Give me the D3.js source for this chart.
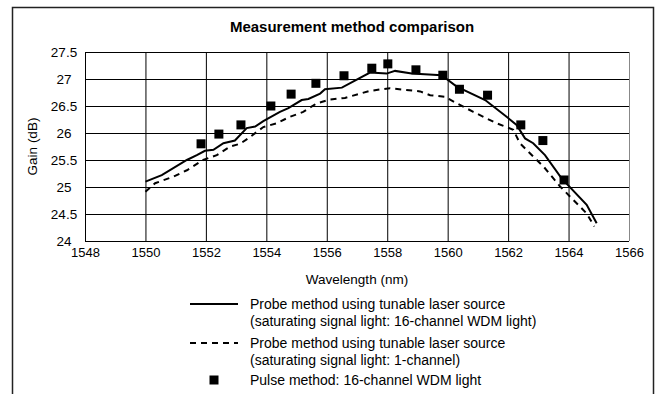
<!DOCTYPE html>
<html>
<head>
<meta charset="utf-8">
<script src="https://cdn.jsdelivr.net/npm/d3@7"></script>
<style>
  html, body { margin: 0; padding: 0; background: #fff; }
  svg { display: block; font-family: "Liberation Sans", Arial, sans-serif; }
</style>
</head>
<body>
<svg id="chart" width="655" height="394"></svg>
<script>
// Probe method, 16-channel WDM saturating light (solid line)
const solidNm = [1550.00, 1550.54, 1551.37, 1551.70, 1551.97, 1552.25, 1552.58, 1552.96, 1553.35, 1553.63, 1553.90,
  1554.45, 1554.73, 1555.17, 1555.39, 1555.78, 1555.94, 1556.50, 1557.43, 1557.98, 1558.26, 1558.81, 1559.80,
  1560.30, 1561.24, 1561.95, 1562.28, 1562.56, 1562.83, 1563.22, 1563.77, 1564.60, 1564.93];
const solidGain = [25.10, 25.22, 25.50, 25.59, 25.67, 25.69, 25.81, 25.86, 26.09, 26.12, 26.22,
  26.39, 26.46, 26.61, 26.63, 26.73, 26.81, 26.84, 27.12, 27.10, 27.15, 27.10, 27.07,
  26.86, 26.61, 26.30, 26.15, 25.90, 25.81, 25.59, 25.16, 24.67, 24.33];

// Probe method, 1-channel saturating light (dashed line)
const dashedNm = [1550.00, 1550.32, 1550.92, 1551.37, 1551.91, 1552.36, 1552.80, 1553.13, 1553.40, 1553.90, 1554.34,
  1554.78, 1555.22, 1555.67, 1556.11, 1556.60, 1557.43, 1558.09, 1559.09, 1559.42, 1559.91, 1560.30,
  1560.85, 1561.62, 1562.17, 1562.39, 1562.73, 1563.17, 1563.72, 1564.16, 1564.60, 1564.85];
const dashedGain = [24.91, 25.07, 25.19, 25.31, 25.50, 25.59, 25.75, 25.80, 25.90, 26.11, 26.18,
  26.30, 26.39, 26.55, 26.62, 26.65, 26.78, 26.83, 26.77, 26.70, 26.67, 26.55,
  26.39, 26.18, 26.06, 25.81, 25.62, 25.38, 25.01, 24.76, 24.51, 24.27];

// Pulse method, 16-channel WDM light (square markers)
const pulseNm = [1551.84, 1552.43, 1553.16, 1554.15, 1554.82, 1555.64, 1556.57, 1557.49,
  1558.02, 1558.95, 1559.84, 1560.39, 1561.32, 1562.42, 1563.15, 1563.85];
const pulseGain = [25.80, 25.98, 26.15, 26.50, 26.72, 26.92, 27.06, 27.20,
  27.28, 27.17, 27.07, 26.81, 26.70, 26.15, 25.86, 25.13];

const xTicks = [1548, 1550, 1552, 1554, 1556, 1558, 1560, 1562, 1564, 1566];
const yTicks = [24, 24.5, 25, 25.5, 26, 26.5, 27, 27.5];

const titleText = "Measurement method comparison";
const xTitle = "Wavelength (nm)";
const yTitle = "Gain (dB)";
const legendLabels = [
  ["Probe method using tunable laser source", "(saturating signal light: 16-channel WDM light)"],
  ["Probe method using tunable laser source", "(saturating signal light: 1-channel)"],
  ["Pulse method: 16-channel WDM light"]
];

const svg = d3.select("#chart");
const plotL = 85, plotR = 629, plotT = 52, plotB = 241;

const x = d3.scaleLinear().domain([1548, 1566]).range([plotL, plotR]);
const y = d3.scaleLinear().domain([24, 27.5]).range([plotB, plotT]);

// outer frame
svg.append("rect")
  .attr("x", 12.5).attr("y", 7.5)
  .attr("width", 641).attr("height", 400)
  .attr("fill", "none").attr("stroke", "#222").attr("stroke-width", 1.5);

// title
svg.append("text")
  .attr("x", 352).attr("y", 27)
  .attr("text-anchor", "middle").attr("dy", "0.35em")
  .attr("font-size", 15).attr("font-weight", "bold")
  .text(titleText);

// y axis with horizontal gridlines; labels centred in the margin column
const yAxis = svg.append("g")
  .attr("transform", `translate(${plotL},0)`)
  .call(d3.axisLeft(y).tickValues(yTicks).tickFormat(d3.format("")).tickSize(-(plotR - plotL)).tickPadding(7));
yAxis.select(".domain").remove();
yAxis.selectAll(".tick line").attr("stroke", "#000").attr("stroke-width", 1);
yAxis.selectAll(".tick text")
  .attr("x", -21).attr("dy", "0.3em")
  .attr("text-anchor", "middle")
  .attr("font-size", 13.5).attr("fill", "#000")
  .attr("font-family", "'Liberation Sans', Arial, sans-serif");

// x axis with vertical gridlines
const xAxis = svg.append("g")
  .attr("transform", `translate(0,${plotB})`)
  .call(d3.axisBottom(x).tickValues(xTicks).tickFormat(d3.format("d")).tickSize(-(plotB - plotT)).tickPadding(7));
xAxis.select(".domain").remove();
xAxis.selectAll(".tick line").attr("stroke", "#000").attr("stroke-width", 1);
xAxis.selectAll(".tick text").attr("font-size", 13).attr("fill", "#000")
  .attr("font-family", "'Liberation Sans', Arial, sans-serif");
xAxis.selectAll(".tick").filter(d => d === 1566).select("line").attr("stroke", "#888");

// axis titles
svg.append("text")
  .attr("x", (plotL + plotR) / 2).attr("y", 279)
  .attr("text-anchor", "middle").attr("dy", "0.35em")
  .attr("font-size", 13.5).text(xTitle);
svg.append("text")
  .attr("transform", `translate(32,${(plotT + plotB) / 2}) rotate(-90)`)
  .attr("text-anchor", "middle").attr("dy", "0.35em")
  .attr("font-size", 13.5).text(yTitle);

// series lines
const line = d3.line().x(d => x(d[0])).y(d => y(d[1]));
const solidData = solidNm.map((v, i) => [v, solidGain[i]]);
const dashedData = dashedNm.map((v, i) => [v, dashedGain[i]]);
const pulseData = pulseNm.map((v, i) => [v, pulseGain[i]]);

svg.append("path").datum(dashedData)
  .attr("d", line).attr("fill", "none")
  .attr("stroke", "#000").attr("stroke-width", 2).attr("stroke-dasharray", "6,5");
svg.append("path").datum(solidData)
  .attr("d", line).attr("fill", "none")
  .attr("stroke", "#000").attr("stroke-width", 2);

const sq = 9;
svg.append("g").selectAll("rect").data(pulseData).join("rect")
  .attr("x", d => x(d[0]) - sq / 2).attr("y", d => y(d[1]) - sq / 2)
  .attr("width", sq).attr("height", sq).attr("fill", "#000");

// legend
const lg = svg.append("g").attr("font-size", 14);
lg.append("line").attr("x1", 190).attr("x2", 238).attr("y1", 304).attr("y2", 304)
  .attr("stroke", "#000").attr("stroke-width", 2);
lg.append("line").attr("x1", 190).attr("x2", 238).attr("y1", 343).attr("y2", 343)
  .attr("stroke", "#000").attr("stroke-width", 2).attr("stroke-dasharray", "6,5");
lg.append("rect").attr("x", 214 - sq / 2).attr("y", 380 - sq / 2)
  .attr("width", sq).attr("height", sq).attr("fill", "#000");
const rowY = [[304, 321], [343, 360], [380]];
legendLabels.forEach((lines, i) => {
  lines.forEach((t, j) => {
    lg.append("text").attr("x", 250).attr("y", rowY[i][j]).attr("dy", "0.35em").text(t);
  });
});
</script>
</body>
</html>
